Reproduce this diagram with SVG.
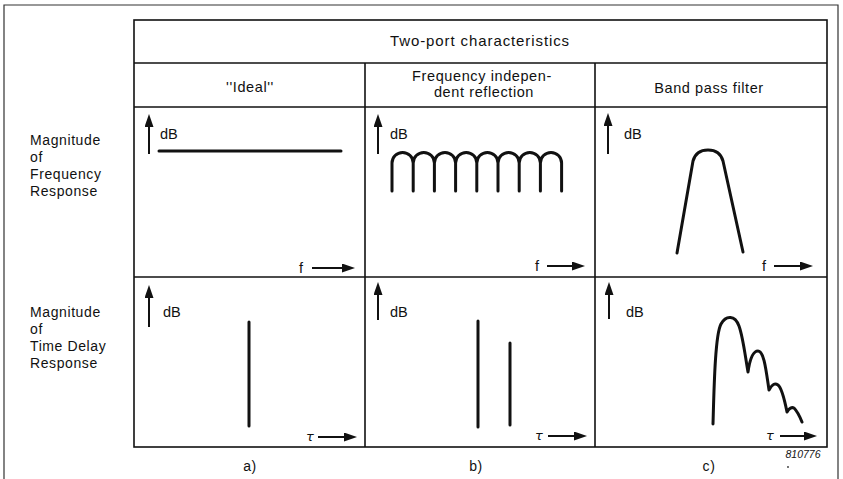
<svg xmlns="http://www.w3.org/2000/svg" width="843" height="479" viewBox="0 0 843 479">
  <style>
    text { font-family: "Liberation Sans", Arial, Helvetica, sans-serif; fill: #111; }
    .hd { font-size: 14.5px; letter-spacing: 0.6px; }
    .ttl { font-size: 15px; letter-spacing: 0.9px; }
    .lbl { font-size: 14px; letter-spacing: 0.6px; }
    .ax { font-size: 14.5px; }
    .tau { font-family: "DejaVu Sans", sans-serif; font-style: italic; font-size: 13px; }
    .grid { stroke: #111; stroke-width: 1.6; fill: none; }
    .frame { stroke: #333; stroke-width: 1.2; fill: none; }
    .axis { stroke: #111; stroke-width: 2; fill: none; }
    .curve { stroke: #111; stroke-width: 3; fill: none; stroke-linejoin: round; stroke-linecap: round; }
  </style>
  <defs>
    <marker id="ah" viewBox="0 0 13 9" refX="1" refY="4.5" markerWidth="13" markerHeight="9" orient="auto" markerUnits="userSpaceOnUse">
      <path d="M0,0 L13,4.5 L0,9 z" fill="#111"/>
    </marker>
  </defs>

  <rect width="843" height="479" fill="#fff"/>

  <!-- outer frame, open at the bottom edge -->
  <path class="frame" d="M4,485 V5 H838 V485"/>

  <!-- table ruling -->
  <g id="connectors" class="grid">
    <rect x="134" y="20" width="693" height="427"/>
    <line x1="134" y1="63" x2="827" y2="63"/>
    <line x1="134" y1="107" x2="827" y2="107"/>
    <line x1="134" y1="277" x2="827" y2="277"/>
    <line x1="365" y1="63" x2="365" y2="447"/>
    <line x1="595" y1="63" x2="595" y2="447"/>
  </g>

  <g id="title">
    <text class="ttl" x="480" y="46" text-anchor="middle">Two-port characteristics</text>
  </g>

  <g id="head-ideal">
    <text class="hd" x="250" y="92" text-anchor="middle">''Ideal''</text>
  </g>
  <g id="head-reflection">
    <text class="hd" x="482" y="81" text-anchor="middle">Frequency indepen-</text>
    <text class="hd" x="484" y="97" text-anchor="middle">dent reflection</text>
  </g>
  <g id="head-bandpass">
    <text class="hd" x="709" y="93" text-anchor="middle">Band pass filter</text>
  </g>

  <g id="row-frequency">
    <text class="lbl" x="30" y="145">Magnitude</text>
    <text class="lbl" x="30" y="162">of</text>
    <text class="lbl" x="30" y="179">Frequency</text>
    <text class="lbl" x="30" y="196">Response</text>
  </g>
  <g id="row-delay">
    <text class="lbl" x="30" y="317">Magnitude</text>
    <text class="lbl" x="30" y="334">of</text>
    <text class="lbl" x="30" y="351">Time Delay</text>
    <text class="lbl" x="30" y="368">Response</text>
  </g>

  <!-- a) ideal: frequency response -->
  <g id="cell-a-freq">
    <line class="axis" x1="149" y1="154" x2="149" y2="126" marker-end="url(#ah)"/>
    <text class="ax" x="160" y="139">dB</text>
    <line class="curve" x1="159" y1="151" x2="341" y2="151" stroke-linecap="butt"/>
    <text class="ax" x="299" y="273">f</text>
    <line class="axis" x1="312" y1="268" x2="343" y2="268" marker-end="url(#ah)"/>
  </g>
  <!-- a) ideal: time delay response -->
  <g id="cell-a-delay">
    <line class="axis" x1="149" y1="327" x2="149" y2="297" marker-end="url(#ah)"/>
    <text class="ax" x="163" y="317">dB</text>
    <line class="curve" x1="249" y1="322" x2="249" y2="426" stroke-linecap="butt"/>
    <text class="tau" x="306" y="441">τ</text>
    <line class="axis" x1="318" y1="437" x2="345" y2="437" marker-end="url(#ah)"/>
  </g>

  <!-- b) reflection: rippled frequency response -->
  <g id="cell-b-freq">
    <line class="axis" x1="378" y1="154" x2="378" y2="126" marker-end="url(#ah)"/>
    <text class="ax" x="390" y="139">dB</text>
    <path class="curve" d="M392,191 V163 A10.6,10.6 0 0 1 413.2,163 V191
      M413.2,191 V163 A10.6,10.6 0 0 1 434.4,163 V191
      M434.4,191 V163 A10.6,10.6 0 0 1 455.6,163 V191
      M455.6,191 V163 A10.6,10.6 0 0 1 476.8,163 V191
      M476.8,191 V163 A10.6,10.6 0 0 1 498,163 V191
      M498,191 V163 A10.6,10.6 0 0 1 519.2,163 V191
      M519.2,191 V163 A10.6,10.6 0 0 1 540.4,163 V191
      M540.4,191 V163 A10.6,10.6 0 0 1 561.6,163 V191" stroke-linecap="butt"/>
    <text class="ax" x="535" y="271">f</text>
    <line class="axis" x1="547" y1="266" x2="573" y2="266" marker-end="url(#ah)"/>
  </g>
  <!-- b) reflection: main and echo delay -->
  <g id="cell-b-delay">
    <line class="axis" x1="378" y1="320" x2="378" y2="294" marker-end="url(#ah)"/>
    <text class="ax" x="390" y="317">dB</text>
    <line class="curve" x1="478" y1="321" x2="478" y2="427" stroke-linecap="butt"/>
    <line class="curve" x1="510" y1="343" x2="510" y2="425" stroke-linecap="butt"/>
    <text class="tau" x="535" y="440">τ</text>
    <line class="axis" x1="548" y1="436" x2="575" y2="436" marker-end="url(#ah)"/>
  </g>

  <!-- c) band pass: frequency response -->
  <g id="cell-c-freq">
    <line class="axis" x1="608" y1="154" x2="608" y2="125" marker-end="url(#ah)"/>
    <text class="ax" x="624" y="139">dB</text>
    <path class="curve" d="M677,253 L693,161 Q696,150 708,150 Q720,150 723,161 L743,252"/>
    <text class="ax" x="762" y="271">f</text>
    <line class="axis" x1="774" y1="266" x2="801" y2="266" marker-end="url(#ah)"/>
  </g>
  <!-- c) band pass: time delay response -->
  <g id="cell-c-delay">
    <line class="axis" x1="609" y1="319" x2="609" y2="294" marker-end="url(#ah)"/>
    <text class="ax" x="626" y="317">dB</text>
    <path class="curve" d="M713,424 C714,390 715,335 721,324 C726,315 735,315 739,326 C743,337 745,355 748,372
      C750,358 753,351 758,351 C764,351 766,370 769,390
      C772,384 775,383 778,385 C782,388 785,402 787,412
      C789,408 792,407 794,408 C797,411 800,417 802,422"/>
    <text class="tau" x="766" y="440">τ</text>
    <line class="axis" x1="780" y1="436" x2="805" y2="436" marker-end="url(#ah)"/>
  </g>

  <g id="captions">
    <text class="lbl" x="250" y="471" text-anchor="middle">a)</text>
    <text class="lbl" x="476" y="471" text-anchor="middle">b)</text>
    <text class="lbl" x="709" y="471" text-anchor="middle">c)</text>
    <text x="803" y="458" text-anchor="middle" font-size="10.5" font-style="italic">810776</text>
    <circle cx="788" cy="467" r="0.9" fill="#333"/>
  </g>
</svg>
